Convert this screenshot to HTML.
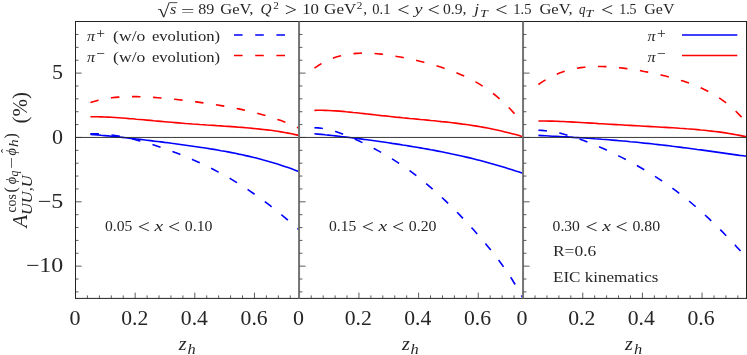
<!DOCTYPE html>
<html><head><meta charset="utf-8"><title>plot</title>
<style>html,body{margin:0;padding:0;background:#fff;}svg{display:block;}text{font-family:"Liberation Serif",serif;fill:#262626;}.i{font-style:italic;}</style></head><body>
<svg width="747" height="355" viewBox="0 0 747 355">
<rect width="747" height="355" fill="#fff"/>
<g stroke-linecap="butt" stroke-linejoin="round">
<path d="M90.4,102.5 L93.9,101.4 L97.5,100.4 L101.0,99.6 L104.5,98.9 L108.1,98.3 L111.6,97.8 L115.1,97.4 L118.6,97.1 L122.2,96.8 L125.7,96.7 L129.2,96.6 L132.8,96.6 L136.3,96.6 L139.8,96.7 L143.4,96.8 L146.9,97.0 L150.4,97.2 L153.9,97.4 L157.5,97.7 L161.0,98.0 L164.5,98.3 L168.1,98.6 L171.6,99.0 L175.1,99.3 L178.7,99.7 L182.2,100.1 L185.7,100.6 L189.3,101.0 L192.8,101.5 L196.3,101.9 L199.8,102.4 L203.4,102.9 L206.9,103.4 L210.4,103.9 L214.0,104.5 L217.5,105.0 L221.0,105.6 L224.6,106.2 L228.1,106.8 L231.6,107.5 L235.2,108.2 L238.7,108.9 L242.2,109.6 L245.7,110.4 L249.3,111.2 L252.8,112.0 L256.3,112.9 L259.9,113.9 L263.4,114.9 L266.9,115.9 L270.5,117.0 L274.0,118.1 L277.5,119.4 L281.0,120.6 L284.6,122.0 L288.1,123.4 L291.6,124.9 L295.2,126.5 L298.7,128.1" fill="none" stroke="#ff0000" stroke-width="1.6" stroke-dasharray="8.5 12.6"/>
<path d="M90.4,116.8 L93.9,116.8 L97.5,116.8 L101.0,116.9 L104.5,117.0 L108.1,117.1 L111.6,117.3 L115.1,117.5 L118.6,117.7 L122.2,118.0 L125.7,118.3 L129.2,118.6 L132.8,118.8 L136.3,119.2 L139.8,119.5 L143.4,119.8 L146.9,120.1 L150.4,120.4 L153.9,120.8 L157.5,121.1 L161.0,121.4 L164.5,121.7 L168.1,122.0 L171.6,122.3 L175.1,122.6 L178.7,122.9 L182.2,123.2 L185.7,123.5 L189.3,123.7 L192.8,124.0 L196.3,124.2 L199.8,124.5 L203.4,124.7 L206.9,125.0 L210.4,125.2 L214.0,125.4 L217.5,125.7 L221.0,125.9 L224.6,126.2 L228.1,126.4 L231.6,126.6 L235.2,126.9 L238.7,127.2 L242.2,127.4 L245.7,127.7 L249.3,128.0 L252.8,128.4 L256.3,128.7 L259.9,129.1 L263.4,129.5 L266.9,129.9 L270.5,130.3 L274.0,130.8 L277.5,131.3 L281.0,131.9 L284.6,132.5 L288.1,133.1 L291.6,133.8 L295.2,134.6 L298.7,135.4" fill="none" stroke="#ff0000" stroke-width="1.6"/>
<path d="M90.4,133.7 L93.9,133.7 L97.5,133.7 L101.0,133.9 L104.5,134.2 L108.1,134.5 L111.6,135.0 L115.1,135.5 L118.6,136.1 L122.2,136.8 L125.7,137.5 L129.2,138.3 L132.8,139.1 L136.3,140.0 L139.8,140.9 L143.4,141.9 L146.9,142.9 L150.4,143.9 L153.9,145.0 L157.5,146.2 L161.0,147.4 L164.5,148.6 L168.1,149.8 L171.6,151.1 L175.1,152.4 L178.7,153.8 L182.2,155.2 L185.7,156.7 L189.3,158.1 L192.8,159.7 L196.3,161.2 L199.8,162.8 L203.4,164.5 L206.9,166.2 L210.4,167.9 L214.0,169.7 L217.5,171.6 L221.0,173.4 L224.6,175.4 L228.1,177.4 L231.6,179.4 L235.2,181.6 L238.7,183.7 L242.2,185.9 L245.7,188.2 L249.3,190.6 L252.8,193.0 L256.3,195.4 L259.9,198.0 L263.4,200.6 L266.9,203.2 L270.5,205.9 L274.0,208.7 L277.5,211.5 L281.0,214.4 L284.6,217.3 L288.1,220.3 L291.6,223.3 L295.2,226.4 L298.7,229.5" fill="none" stroke="#0000ff" stroke-width="1.6" stroke-dasharray="8.5 12.6"/>
<path d="M90.4,134.4 L93.9,134.6 L97.5,134.9 L101.0,135.3 L104.5,135.6 L108.1,135.9 L111.6,136.3 L115.1,136.6 L118.6,137.0 L122.2,137.4 L125.7,137.8 L129.2,138.2 L132.8,138.6 L136.3,139.0 L139.8,139.4 L143.4,139.8 L146.9,140.2 L150.4,140.6 L153.9,141.1 L157.5,141.5 L161.0,141.9 L164.5,142.4 L168.1,142.8 L171.6,143.3 L175.1,143.7 L178.7,144.2 L182.2,144.7 L185.7,145.2 L189.3,145.7 L192.8,146.2 L196.3,146.7 L199.8,147.2 L203.4,147.7 L206.9,148.3 L210.4,148.9 L214.0,149.4 L217.5,150.0 L221.0,150.7 L224.6,151.3 L228.1,151.9 L231.6,152.6 L235.2,153.3 L238.7,154.1 L242.2,154.8 L245.7,155.6 L249.3,156.4 L252.8,157.2 L256.3,158.1 L259.9,159.0 L263.4,160.0 L266.9,160.9 L270.5,161.9 L274.0,163.0 L277.5,164.1 L281.0,165.2 L284.6,166.4 L288.1,167.6 L291.6,168.8 L295.2,170.2 L298.7,171.5" fill="none" stroke="#0000ff" stroke-width="1.6"/>
<path d="M314.4,68.2 L317.9,65.8 L321.4,63.6 L324.9,61.7 L328.4,60.0 L331.9,58.6 L335.4,57.3 L338.9,56.3 L342.4,55.4 L345.9,54.7 L349.5,54.1 L353.0,53.7 L356.5,53.4 L360.0,53.2 L363.5,53.1 L367.0,53.2 L370.5,53.3 L374.0,53.5 L377.5,53.8 L381.0,54.1 L384.5,54.5 L388.0,55.0 L391.5,55.5 L395.0,56.1 L398.5,56.7 L402.0,57.3 L405.5,58.0 L409.0,58.8 L412.5,59.5 L416.0,60.3 L419.6,61.2 L423.1,62.1 L426.6,63.0 L430.1,63.9 L433.6,64.9 L437.1,66.0 L440.6,67.1 L444.1,68.2 L447.6,69.4 L451.1,70.7 L454.6,72.0 L458.1,73.4 L461.6,74.9 L465.1,76.5 L468.6,78.2 L472.1,80.0 L475.6,81.9 L479.1,83.9 L482.6,86.1 L486.1,88.4 L489.7,90.8 L493.2,93.5 L496.7,96.3 L500.2,99.3 L503.7,102.5 L507.2,105.9 L510.7,109.5 L514.2,113.4 L517.7,117.6 L521.2,122.0" fill="none" stroke="#ff0000" stroke-width="1.6" stroke-dasharray="8.5 12.6"/>
<path d="M314.4,110.4 L317.9,110.3 L321.5,110.3 L325.0,110.4 L328.5,110.5 L332.1,110.7 L335.6,110.9 L339.1,111.1 L342.6,111.4 L346.2,111.8 L349.7,112.1 L353.2,112.5 L356.8,112.8 L360.3,113.2 L363.8,113.6 L367.4,114.0 L370.9,114.4 L374.4,114.8 L377.9,115.2 L381.5,115.6 L385.0,115.9 L388.5,116.3 L392.1,116.7 L395.6,117.1 L399.1,117.4 L402.7,117.8 L406.2,118.1 L409.7,118.5 L413.3,118.8 L416.8,119.1 L420.3,119.5 L423.8,119.8 L427.4,120.1 L430.9,120.5 L434.4,120.8 L438.0,121.2 L441.5,121.6 L445.0,121.9 L448.6,122.3 L452.1,122.7 L455.6,123.1 L459.2,123.6 L462.7,124.1 L466.2,124.5 L469.7,125.0 L473.3,125.6 L476.8,126.1 L480.3,126.7 L483.9,127.4 L487.4,128.0 L490.9,128.7 L494.5,129.5 L498.0,130.2 L501.5,131.0 L505.0,131.9 L508.6,132.8 L512.1,133.7 L515.6,134.6 L519.2,135.6 L522.7,136.7" fill="none" stroke="#ff0000" stroke-width="1.6"/>
<path d="M314.4,127.8 L317.9,127.9 L321.5,128.2 L325.0,128.8 L328.5,129.6 L332.1,130.5 L335.6,131.6 L339.1,132.7 L342.6,134.0 L346.2,135.4 L349.7,136.9 L353.2,138.4 L356.8,140.0 L360.3,141.6 L363.8,143.3 L367.4,145.1 L370.9,146.9 L374.4,148.7 L377.9,150.6 L381.5,152.6 L385.0,154.6 L388.5,156.7 L392.1,158.9 L395.6,161.1 L399.1,163.4 L402.7,165.7 L406.2,168.2 L409.7,170.7 L413.3,173.3 L416.8,176.0 L420.3,178.8 L423.8,181.6 L427.4,184.6 L430.9,187.6 L434.4,190.7 L438.0,193.9 L441.5,197.1 L445.0,200.4 L448.6,203.8 L452.1,207.3 L455.6,210.8 L459.2,214.4 L462.7,218.1 L466.2,221.8 L469.7,225.7 L473.3,229.5 L476.8,233.5 L480.3,237.5 L483.9,241.7 L487.4,245.9 L490.9,250.2 L494.5,254.6 L498.0,259.2 L501.5,264.0 L505.0,268.9 L508.6,274.1 L512.1,279.5 L515.6,285.2 L519.2,291.2 L522.7,297.6" fill="none" stroke="#0000ff" stroke-width="1.6" stroke-dasharray="8.5 12.6"/>
<path d="M314.4,133.8 L317.9,134.1 L321.5,134.4 L325.0,134.8 L328.5,135.1 L332.1,135.5 L335.6,135.9 L339.1,136.3 L342.6,136.7 L346.2,137.1 L349.7,137.5 L353.2,138.0 L356.8,138.4 L360.3,138.9 L363.8,139.4 L367.4,139.8 L370.9,140.3 L374.4,140.8 L377.9,141.3 L381.5,141.8 L385.0,142.3 L388.5,142.8 L392.1,143.4 L395.6,143.9 L399.1,144.4 L402.7,145.0 L406.2,145.5 L409.7,146.1 L413.3,146.7 L416.8,147.3 L420.3,147.9 L423.8,148.5 L427.4,149.1 L430.9,149.8 L434.4,150.4 L438.0,151.1 L441.5,151.8 L445.0,152.5 L448.6,153.2 L452.1,154.0 L455.6,154.7 L459.2,155.5 L462.7,156.3 L466.2,157.1 L469.7,157.9 L473.3,158.8 L476.8,159.7 L480.3,160.6 L483.9,161.5 L487.4,162.5 L490.9,163.5 L494.5,164.5 L498.0,165.5 L501.5,166.5 L505.0,167.6 L508.6,168.7 L512.1,169.8 L515.6,171.0 L519.2,172.1 L522.7,173.3" fill="none" stroke="#0000ff" stroke-width="1.6"/>
<path d="M538.4,84.5 L541.9,82.1 L545.5,79.9 L549.0,77.9 L552.5,76.1 L556.1,74.5 L559.6,73.0 L563.1,71.8 L566.6,70.7 L570.2,69.7 L573.7,68.9 L577.2,68.2 L580.8,67.6 L584.3,67.2 L587.8,66.9 L591.4,66.6 L594.9,66.5 L598.4,66.5 L601.9,66.5 L605.5,66.6 L609.0,66.8 L612.5,67.1 L616.1,67.4 L619.6,67.7 L623.1,68.1 L626.7,68.6 L630.2,69.1 L633.7,69.6 L637.3,70.2 L640.8,70.8 L644.3,71.5 L647.8,72.1 L651.4,72.9 L654.9,73.6 L658.4,74.4 L662.0,75.2 L665.5,76.1 L669.0,77.0 L672.6,77.9 L676.1,78.9 L679.6,80.0 L683.2,81.1 L686.7,82.3 L690.2,83.5 L693.7,84.9 L697.3,86.3 L700.8,87.8 L704.3,89.5 L707.9,91.3 L711.4,93.2 L714.9,95.2 L718.5,97.4 L722.0,99.8 L725.5,102.4 L729.0,105.2 L732.6,108.3 L736.1,111.5 L739.6,115.1 L743.2,118.9 L746.7,123.1" fill="none" stroke="#ff0000" stroke-width="1.6" stroke-dasharray="8.5 12.6"/>
<path d="M538.4,121.0 L541.9,121.0 L545.5,121.0 L549.0,121.1 L552.5,121.1 L556.1,121.2 L559.6,121.4 L563.1,121.5 L566.6,121.7 L570.2,121.9 L573.7,122.1 L577.2,122.3 L580.8,122.5 L584.3,122.7 L587.8,122.9 L591.4,123.1 L594.9,123.3 L598.4,123.6 L601.9,123.8 L605.5,124.0 L609.0,124.2 L612.5,124.4 L616.1,124.6 L619.6,124.8 L623.1,125.0 L626.7,125.2 L630.2,125.4 L633.7,125.6 L637.3,125.8 L640.8,126.0 L644.3,126.2 L647.8,126.4 L651.4,126.6 L654.9,126.8 L658.4,127.0 L662.0,127.2 L665.5,127.4 L669.0,127.6 L672.6,127.8 L676.1,128.0 L679.6,128.3 L683.2,128.5 L686.7,128.8 L690.2,129.0 L693.7,129.3 L697.3,129.6 L700.8,130.0 L704.3,130.3 L707.9,130.7 L711.4,131.1 L714.9,131.5 L718.5,131.9 L722.0,132.4 L725.5,132.9 L729.0,133.5 L732.6,134.1 L736.1,134.7 L739.6,135.4 L743.2,136.1 L746.7,136.8" fill="none" stroke="#ff0000" stroke-width="1.6"/>
<path d="M538.4,130.3 L541.9,130.4 L545.5,130.7 L549.0,131.1 L552.5,131.6 L556.1,132.3 L559.6,133.0 L563.1,133.9 L566.6,134.9 L570.2,135.9 L573.7,137.0 L577.2,138.2 L580.8,139.4 L584.3,140.7 L587.8,142.1 L591.4,143.5 L594.9,145.0 L598.4,146.5 L601.9,148.0 L605.5,149.6 L609.0,151.2 L612.5,152.9 L616.1,154.6 L619.6,156.4 L623.1,158.1 L626.7,160.0 L630.2,161.9 L633.7,163.8 L637.3,165.7 L640.8,167.7 L644.3,169.8 L647.8,171.9 L651.4,174.1 L654.9,176.3 L658.4,178.6 L662.0,180.9 L665.5,183.3 L669.0,185.8 L672.6,188.3 L676.1,190.9 L679.6,193.6 L683.2,196.3 L686.7,199.2 L690.2,202.0 L693.7,205.0 L697.3,208.0 L700.8,211.2 L704.3,214.4 L707.9,217.6 L711.4,221.0 L714.9,224.4 L718.5,227.8 L722.0,231.4 L725.5,235.0 L729.0,238.7 L732.6,242.4 L736.1,246.2 L739.6,250.0 L743.2,253.8 L746.7,257.7" fill="none" stroke="#0000ff" stroke-width="1.6" stroke-dasharray="8.5 12.6"/>
<path d="M538.4,135.4 L541.9,135.6 L545.5,135.8 L549.0,136.0 L552.5,136.2 L556.1,136.3 L559.6,136.5 L563.1,136.7 L566.6,136.9 L570.2,137.1 L573.7,137.4 L577.2,137.6 L580.8,137.8 L584.3,138.0 L587.8,138.3 L591.4,138.5 L594.9,138.8 L598.4,139.0 L601.9,139.3 L605.5,139.5 L609.0,139.8 L612.5,140.1 L616.1,140.4 L619.6,140.7 L623.1,141.0 L626.7,141.3 L630.2,141.7 L633.7,142.0 L637.3,142.3 L640.8,142.7 L644.3,143.1 L647.8,143.4 L651.4,143.8 L654.9,144.2 L658.4,144.6 L662.0,145.0 L665.5,145.4 L669.0,145.8 L672.6,146.3 L676.1,146.7 L679.6,147.1 L683.2,147.6 L686.7,148.0 L690.2,148.5 L693.7,149.0 L697.3,149.5 L700.8,149.9 L704.3,150.4 L707.9,150.9 L711.4,151.4 L714.9,151.9 L718.5,152.4 L722.0,152.9 L725.5,153.4 L729.0,153.9 L732.6,154.4 L736.1,154.9 L739.6,155.4 L743.2,155.8 L746.7,156.3" fill="none" stroke="#0000ff" stroke-width="1.6"/>
</g>
<g stroke-width="1.5" fill="none">
<path d="M234,35.1H289.5" stroke="#0000ff" stroke-dasharray="8.6 12.6"/>
<path d="M234,55.6H289.5" stroke="#ff0000" stroke-dasharray="8.6 12.6"/>
<path d="M682,35.1H737.3" stroke="#0000ff"/>
<path d="M682,55.6H737.3" stroke="#ff0000"/>
</g>
<g stroke="#222" stroke-width="1" fill="none">
<path d="M75.5,137.45H746.5" stroke-width="0.9"/>
<path d="M75,21.5H747M75,298.4H747"/>
<path d="M75.5,21.5V298.4"/>
<path d="M299.05,21.5V298.4M523.05,21.5V298.4" stroke-width="2" stroke="#757575"/>
<path d="M746.5,21.5V298.4"/>
<path d="M75.5,291.89h3.0M75.5,279.02h3.0M75.5,266.15h6.1M75.5,253.28h3.0M75.5,240.41h3.0M75.5,227.54h3.0M75.5,214.67h3.0M75.5,201.80h6.1M75.5,188.93h3.0M75.5,176.06h3.0M75.5,163.19h3.0M75.5,150.32h3.0M75.5,137.45h6.1M75.5,124.58h3.0M75.5,111.71h3.0M75.5,98.84h3.0M75.5,85.97h3.0M75.5,73.10h6.1M75.5,60.23h3.0M75.5,47.36h3.0M75.5,34.49h3.0M87.43,298.4v-3.0M99.36,298.4v-3.0M111.29,298.4v-3.0M123.22,298.4v-3.0M135.15,298.4v-5.8M147.08,298.4v-3.0M159.01,298.4v-3.0M170.95,298.4v-3.0M182.88,298.4v-3.0M194.81,298.4v-5.8M206.74,298.4v-3.0M218.67,298.4v-3.0M230.60,298.4v-3.0M242.53,298.4v-3.0M254.46,298.4v-5.8M266.39,298.4v-3.0M278.32,298.4v-3.0M290.25,298.4v-3.0M299.45,291.89h3.0M299.45,279.02h3.0M299.45,266.15h6.1M299.45,253.28h3.0M299.45,240.41h3.0M299.45,227.54h3.0M299.45,214.67h3.0M299.45,201.80h6.1M299.45,188.93h3.0M299.45,176.06h3.0M299.45,163.19h3.0M299.45,150.32h3.0M299.45,137.45h6.1M299.45,124.58h3.0M299.45,111.71h3.0M299.45,98.84h3.0M299.45,85.97h3.0M299.45,73.10h6.1M299.45,60.23h3.0M299.45,47.36h3.0M299.45,34.49h3.0M311.23,298.4v-3.0M323.16,298.4v-3.0M335.09,298.4v-3.0M347.02,298.4v-3.0M358.95,298.4v-5.8M370.88,298.4v-3.0M382.81,298.4v-3.0M394.75,298.4v-3.0M406.68,298.4v-3.0M418.61,298.4v-5.8M430.54,298.4v-3.0M442.47,298.4v-3.0M454.40,298.4v-3.0M466.33,298.4v-3.0M478.26,298.4v-5.8M490.19,298.4v-3.0M502.12,298.4v-3.0M514.05,298.4v-3.0M523.4499999999999,291.89h3.0M523.4499999999999,279.02h3.0M523.4499999999999,266.15h6.1M523.4499999999999,253.28h3.0M523.4499999999999,240.41h3.0M523.4499999999999,227.54h3.0M523.4499999999999,214.67h3.0M523.4499999999999,201.80h6.1M523.4499999999999,188.93h3.0M523.4499999999999,176.06h3.0M523.4499999999999,163.19h3.0M523.4499999999999,150.32h3.0M523.4499999999999,137.45h6.1M523.4499999999999,124.58h3.0M523.4499999999999,111.71h3.0M523.4499999999999,98.84h3.0M523.4499999999999,85.97h3.0M523.4499999999999,73.10h6.1M523.4499999999999,60.23h3.0M523.4499999999999,47.36h3.0M523.4499999999999,34.49h3.0M535.03,298.4v-3.0M546.96,298.4v-3.0M558.89,298.4v-3.0M570.82,298.4v-3.0M582.75,298.4v-5.8M594.68,298.4v-3.0M606.61,298.4v-3.0M618.55,298.4v-3.0M630.48,298.4v-3.0M642.41,298.4v-5.8M654.34,298.4v-3.0M666.27,298.4v-3.0M678.20,298.4v-3.0M690.13,298.4v-3.0M702.06,298.4v-5.8M713.99,298.4v-3.0M725.92,298.4v-3.0M737.85,298.4v-3.0" stroke-width="0.8" stroke="#333"/>
</g>
<text x="157.4" y="16.9" font-size="18.5" textLength="12.2" lengthAdjust="spacingAndGlyphs">√</text>
<path d="M169.3,2.65H177.3" stroke="#222" stroke-width="0.8"/>
<text x="169.9" y="14.1" font-size="15.1" class="i" textLength="6.3" lengthAdjust="spacingAndGlyphs">s</text>
<text x="180.9" y="16.3" font-size="14.8" textLength="13.4" lengthAdjust="spacingAndGlyphs">=</text>
<text x="198.2" y="14.1" font-size="15.1" textLength="16" lengthAdjust="spacingAndGlyphs">89</text>
<text x="220.3" y="14.1" font-size="15.1" textLength="33.2" lengthAdjust="spacingAndGlyphs">GeV,</text>
<text x="260.6" y="14.1" font-size="15.1" class="i" textLength="11" lengthAdjust="spacingAndGlyphs">Q</text>
<text x="273.3" y="8.5" font-size="11" textLength="5.6" lengthAdjust="spacingAndGlyphs">2</text>
<text x="284.81" y="16.1" font-size="18.5" textLength="12.25" lengthAdjust="spacingAndGlyphs">&gt;</text>
<text x="302.2" y="14.1" font-size="15.1" textLength="16.8" lengthAdjust="spacingAndGlyphs">10</text>
<text x="324.1" y="14.1" font-size="15.1" textLength="32.2" lengthAdjust="spacingAndGlyphs">GeV</text>
<text x="356.8" y="8.5" font-size="11" textLength="5.6" lengthAdjust="spacingAndGlyphs">2</text>
<text x="363.2" y="14.1" font-size="15.1">,</text>
<text x="372.3" y="14.1" font-size="15.1" textLength="18.2" lengthAdjust="spacingAndGlyphs">0.1</text>
<text x="397.31" y="16.1" font-size="18.5" textLength="12.25" lengthAdjust="spacingAndGlyphs">&lt;</text>
<text x="414.5" y="14.1" font-size="15.1" class="i" textLength="8" lengthAdjust="spacingAndGlyphs">y</text>
<text x="427.51" y="16.1" font-size="18.5" textLength="12.25" lengthAdjust="spacingAndGlyphs">&lt;</text>
<text x="443" y="14.1" font-size="15.1" textLength="23.5" lengthAdjust="spacingAndGlyphs">0.9,</text>
<text x="474.3" y="14.1" font-size="15.1" class="i" textLength="4.8" lengthAdjust="spacingAndGlyphs">j</text>
<text x="480.0" y="16.6" font-size="11.2" class="i" textLength="7.8" lengthAdjust="spacingAndGlyphs">T</text>
<text x="495.21" y="16.1" font-size="18.5" textLength="12.25" lengthAdjust="spacingAndGlyphs">&lt;</text>
<text x="513.3" y="14.1" font-size="15.1" textLength="18.2" lengthAdjust="spacingAndGlyphs">1.5</text>
<text x="539.4" y="14.1" font-size="15.1" textLength="33.2" lengthAdjust="spacingAndGlyphs">GeV,</text>
<text x="579" y="14.1" font-size="15.1" class="i" textLength="6.5" lengthAdjust="spacingAndGlyphs">q</text>
<text x="585.4" y="16.6" font-size="11.2" class="i" textLength="7.8" lengthAdjust="spacingAndGlyphs">T</text>
<text x="600.91" y="16.1" font-size="18.5" textLength="12.25" lengthAdjust="spacingAndGlyphs">&lt;</text>
<text x="619.2" y="14.1" font-size="15.1" textLength="17.4" lengthAdjust="spacingAndGlyphs">1.5</text>
<text x="644.3" y="14.1" font-size="15.1" textLength="30.2" lengthAdjust="spacingAndGlyphs">GeV</text>
<text x="86.9" y="41.3" font-size="15.1" class="i" textLength="8.1" lengthAdjust="spacingAndGlyphs">π</text>
<text x="96.2" y="38.4" font-size="15.5">+</text>
<text x="113.1" y="41.3" font-size="15.1" textLength="32.2" lengthAdjust="spacingAndGlyphs">(w/o</text>
<text x="151.9" y="41.3" font-size="15.1" textLength="68.2" lengthAdjust="spacingAndGlyphs">evolution)</text>
<text x="86.9" y="61.75" font-size="15.1" class="i" textLength="8.1" lengthAdjust="spacingAndGlyphs">π</text>
<text x="96.2" y="58.6" font-size="15.5">−</text>
<text x="113.1" y="61.75" font-size="15.1" textLength="32.2" lengthAdjust="spacingAndGlyphs">(w/o</text>
<text x="151.9" y="61.75" font-size="15.1" textLength="68.2" lengthAdjust="spacingAndGlyphs">evolution)</text>
<text x="647.6" y="41.3" font-size="15.1" class="i" textLength="8.1" lengthAdjust="spacingAndGlyphs">π</text>
<text x="657.0" y="38.4" font-size="15.5">+</text>
<text x="647.6" y="61.75" font-size="15.1" class="i" textLength="8.1" lengthAdjust="spacingAndGlyphs">π</text>
<text x="657.0" y="58.6" font-size="15.5">−</text>
<text x="105.0" y="230.7" font-size="15.2" textLength="27.3" lengthAdjust="spacingAndGlyphs">0.05</text>
<text x="137.82" y="232.8" font-size="18.5" textLength="12.13" lengthAdjust="spacingAndGlyphs">&lt;</text>
<text x="154.6" y="230.7" font-size="15.2" class="i" textLength="8.7" lengthAdjust="spacingAndGlyphs">x</text>
<text x="167.92" y="232.8" font-size="18.5" textLength="12.13" lengthAdjust="spacingAndGlyphs">&lt;</text>
<text x="184.8" y="230.7" font-size="15.2" textLength="27.7" lengthAdjust="spacingAndGlyphs">0.10</text>
<text x="329.0" y="230.7" font-size="15.2" textLength="27.3" lengthAdjust="spacingAndGlyphs">0.15</text>
<text x="361.82" y="232.8" font-size="18.5" textLength="12.13" lengthAdjust="spacingAndGlyphs">&lt;</text>
<text x="378.6" y="230.7" font-size="15.2" class="i" textLength="8.7" lengthAdjust="spacingAndGlyphs">x</text>
<text x="391.92" y="232.8" font-size="18.5" textLength="12.13" lengthAdjust="spacingAndGlyphs">&lt;</text>
<text x="408.8" y="230.7" font-size="15.2" textLength="27.7" lengthAdjust="spacingAndGlyphs">0.20</text>
<text x="552.6" y="230.7" font-size="15.2" textLength="27.3" lengthAdjust="spacingAndGlyphs">0.30</text>
<text x="585.42" y="232.8" font-size="18.5" textLength="12.13" lengthAdjust="spacingAndGlyphs">&lt;</text>
<text x="602.2" y="230.7" font-size="15.2" class="i" textLength="8.7" lengthAdjust="spacingAndGlyphs">x</text>
<text x="615.52" y="232.8" font-size="18.5" textLength="12.13" lengthAdjust="spacingAndGlyphs">&lt;</text>
<text x="632.4" y="230.7" font-size="15.2" textLength="27.7" lengthAdjust="spacingAndGlyphs">0.80</text>
<text x="553" y="256.2" font-size="15.2" textLength="43.2" lengthAdjust="spacingAndGlyphs">R=0.6</text>
<text x="553" y="281.7" font-size="15.2" textLength="105.5" lengthAdjust="spacingAndGlyphs">EIC kinematics</text>
<text x="62.9" y="79.3" font-size="20.6" text-anchor="end" textLength="11.0" lengthAdjust="spacingAndGlyphs">5</text>
<text x="62.9" y="143.6" font-size="20.6" text-anchor="end" textLength="11.0" lengthAdjust="spacingAndGlyphs">0</text>
<text x="63.3" y="208.0" font-size="20.6" text-anchor="end" textLength="25.6" lengthAdjust="spacingAndGlyphs">−5</text>
<text x="63.3" y="272.3" font-size="20.6" text-anchor="end" textLength="37.4" lengthAdjust="spacingAndGlyphs">−10</text>
<text x="75.1" y="325" font-size="20.6" text-anchor="middle" textLength="11.0" lengthAdjust="spacingAndGlyphs">0</text>
<text x="134.8" y="325" font-size="20.6" text-anchor="middle" textLength="27.1" lengthAdjust="spacingAndGlyphs">0.2</text>
<text x="194.4" y="325" font-size="20.6" text-anchor="middle" textLength="27.1" lengthAdjust="spacingAndGlyphs">0.4</text>
<text x="254.1" y="325" font-size="20.6" text-anchor="middle" textLength="27.1" lengthAdjust="spacingAndGlyphs">0.6</text>
<text x="178.8" y="350.2" font-size="18.6" class="i" textLength="7.8" lengthAdjust="spacingAndGlyphs">z</text>
<text x="187.4" y="353.8" font-size="14.2" class="i" textLength="8.2" lengthAdjust="spacingAndGlyphs">h</text>
<text x="298.5" y="325" font-size="20.6" text-anchor="middle" textLength="11.0" lengthAdjust="spacingAndGlyphs">0</text>
<text x="358.2" y="325" font-size="20.6" text-anchor="middle" textLength="27.1" lengthAdjust="spacingAndGlyphs">0.2</text>
<text x="417.8" y="325" font-size="20.6" text-anchor="middle" textLength="27.1" lengthAdjust="spacingAndGlyphs">0.4</text>
<text x="477.5" y="325" font-size="20.6" text-anchor="middle" textLength="27.1" lengthAdjust="spacingAndGlyphs">0.6</text>
<text x="401.9" y="350.2" font-size="18.6" class="i" textLength="7.8" lengthAdjust="spacingAndGlyphs">z</text>
<text x="410.6" y="353.8" font-size="14.2" class="i" textLength="8.2" lengthAdjust="spacingAndGlyphs">h</text>
<text x="522.0" y="325" font-size="20.6" text-anchor="middle" textLength="11.0" lengthAdjust="spacingAndGlyphs">0</text>
<text x="581.7" y="325" font-size="20.6" text-anchor="middle" textLength="27.1" lengthAdjust="spacingAndGlyphs">0.2</text>
<text x="641.3" y="325" font-size="20.6" text-anchor="middle" textLength="27.1" lengthAdjust="spacingAndGlyphs">0.4</text>
<text x="701.0" y="325" font-size="20.6" text-anchor="middle" textLength="27.1" lengthAdjust="spacingAndGlyphs">0.6</text>
<text x="625.1" y="350.2" font-size="18.6" class="i" textLength="7.8" lengthAdjust="spacingAndGlyphs">z</text>
<text x="633.9" y="353.8" font-size="14.2" class="i" textLength="8.2" lengthAdjust="spacingAndGlyphs">h</text>
<g transform="translate(27.2,228.6) rotate(-90)">
<text x="1.1" y="0" font-size="20.6" class="i">A</text>
<text x="13.6" y="5.0" font-size="14.8" class="i" textLength="39.7" lengthAdjust="spacingAndGlyphs">UU,U</text>
<text x="16.1" y="-11.2" font-size="14" textLength="18.4" lengthAdjust="spacingAndGlyphs">cos</text>
<text x="36.2" y="-11.2" font-size="15.9">(</text>
<text x="44.3" y="-11.2" font-size="14.4" class="i">ϕ</text>
<text x="52.2" y="-9.5" font-size="11.8" class="i">q</text>
<text x="59.5" y="-11.2" font-size="14.4" textLength="11.76" lengthAdjust="spacingAndGlyphs">−</text>
<text x="73.2" y="-11.2" font-size="14.4" class="i">ϕ</text>
<text x="75.5" y="-17.2" font-size="12">ˆ</text>
<text x="81.55" y="-9.1" font-size="11.8" class="i" textLength="7.67" lengthAdjust="spacingAndGlyphs">h</text>
<text x="90.2" y="-11.2" font-size="15.9">)</text>
<text x="105.0" y="0" font-size="21.4" textLength="31.6" lengthAdjust="spacingAndGlyphs">(%)</text>
</g>
</svg></body></html>
